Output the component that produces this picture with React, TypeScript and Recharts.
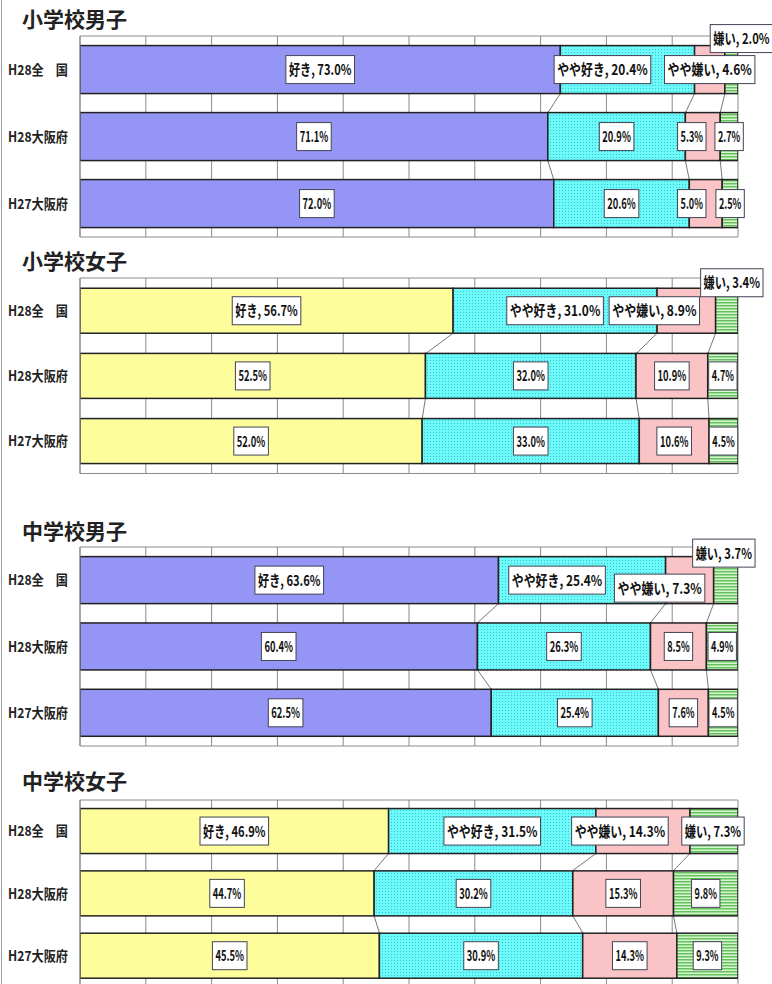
import React from 'react';
import { BarChart, Bar, XAxis, YAxis, CartesianGrid, LabelList } from 'recharts';

const categories = ['H28全　国', 'H28大阪府', 'H27大阪府'];
const seriesNames = ['好き', 'やや好き', 'やや嫌い', '嫌い'];
const panelTitles = ['小学校男子', '小学校女子', '中学校男子', '中学校女子'];
const xTicks = [0, 10, 20, 30, 40, 50, 60, 70, 80, 90, 100];

// values per series (好き, やや好き, やや嫌い, 嫌い), one entry per category row
const elemBoys = [
  [73.0, 71.1, 72.0],
  [20.4, 20.9, 20.6],
  [4.6, 5.3, 5.0],
  [2.0, 2.7, 2.5],
];
const elemGirls = [
  [56.7, 52.5, 52.0],
  [31.0, 32.0, 33.0],
  [8.9, 10.9, 10.6],
  [3.4, 4.7, 4.5],
];
const juniorBoys = [
  [63.6, 60.4, 62.5],
  [25.4, 26.3, 25.4],
  [7.3, 8.5, 7.6],
  [3.7, 4.9, 4.5],
];
const juniorGirls = [
  [46.9, 44.7, 45.5],
  [31.5, 30.2, 30.9],
  [14.3, 15.3, 14.3],
  [7.3, 9.8, 9.3],
];

const panelValues = [elemBoys, elemGirls, juniorBoys, juniorGirls];

// layout of each panel: plot top / height, bar gap, title top
const panelLayout = [
  { plotTop: 36, plotH: 201, gap: 0.143, titleTop: 8 },
  { plotTop: 277.5, plotH: 195.5, gap: 0.157, titleTop: 250 },
  { plotTop: 547, plotH: 199, gap: 0.145, titleTop: 520 },
  { plotTop: 799.5, plotH: 187, gap: 0.137, titleTop: 770 },
];

// manual label nudges, "panel-row-series": [dx, dy]
const labelShift: Record<string, [number, number]> = {
  '0-0-1': [-25, 0],
  '0-0-3': [10, -31],
  '0-1-2': [-11, 0],
  '0-2-2': [-14, 0],
  '1-0-2': [-32, 0],
  '1-0-3': [5, -28],
  '2-0-1': [-25, 0],
  '2-0-2': [-30, 8],
  '2-0-3': [-2, -27],
  '3-0-2': [-23, 0],
  '3-0-3': [-1, 0],
};

const FONT = '"Noto Sans CJK JP", "Noto Sans", sans-serif';
const MARGIN_TOP = 30;
const MARGIN_BOTTOM = 10;
const PLOT_LEFT = 80;
const CHART_W = 772;
const PLOT_RIGHT_MARGIN = 34;

// the source font is a narrow one: estimate its width, then squeeze our glyphs to it
function targetWidth(s: string) {
  let w = 0;
  for (const ch of s) {
    if (/[0-9]/.test(ch)) w += 6.2;
    else if (ch === '%') w += 7;
    else if (ch === '.' || ch === ',' || ch === ' ') w += 3;
    else w += 14;
  }
  return w;
}

const measureCache: Record<string, number> = {};
let measureCtx: CanvasRenderingContext2D | null = null;
function naturalWidth(s: string, size: number) {
  const key = `${size}|${s}`;
  if (measureCache[key]) return measureCache[key];
  if (!measureCtx) measureCtx = document.createElement('canvas').getContext('2d');
  let w = s.length * size * 0.7;
  if (measureCtx) {
    measureCtx.font = `bold ${size}px ${FONT}`;
    w = measureCtx.measureText(s).width;
  }
  measureCache[key] = w;
  return w;
}

function SqueezedText({ x, y, text, width, size, anchor, fill }: any) {
  const sx = Math.min(1, width / naturalWidth(text, size));
  return (
    <g transform={`translate(${x},${y}) scale(${sx},1)`}>
      <text x={0} y={0} textAnchor={anchor} fontFamily={FONT} fontWeight="bold" fontSize={size} fill={fill}>
        {text}
      </text>
    </g>
  );
}

function seriesFill(p: number, s: number) {
  const girls = p % 2 === 1;
  if (s === 0) return girls ? '#fdfd9c' : '#9595f5';
  if (s === 1) return `url(#dots-${p})`;
  if (s === 2) return '#fac3c6';
  return `url(#stripes-${p})`;
}

function makeShape(p: number, s: number) {
  const values = panelValues[p];
  const gap = panelLayout[p].gap;
  return (props: any) => {
    const { x, y, width, height, index } = props;
    const cum = (row: number) => {
      let t = 0;
      for (let k = 0; k <= s; k++) t += values[k][row];
      return t;
    };
    let seriesLine = null;
    if (s < 3 && index < categories.length - 1 && width > 0) {
      const k = width / values[s][index];
      const x0 = x + width - cum(index) * k;
      const nx = x0 + cum(index + 1) * k;
      const band = height / (1 - 2 * gap);
      seriesLine = (
        <line x1={x + width} y1={y + height} x2={nx} y2={y + band} stroke="#777" strokeWidth={1} />
      );
    }
    return (
      <g>
        <rect x={x} y={y} width={width} height={height} fill={props.fill} stroke="#222" strokeWidth={1.5} />
        {seriesLine}
      </g>
    );
  };
}

function makeLabel(p: number, s: number) {
  return (props: any) => {
    const vb = props.viewBox || props;
    const { x, y, width, height } = vb;
    const index = props.index;
    const value = Number(props.value);
    const text = index === 0 ? `${seriesNames[s]}, ${value.toFixed(1)}%` : `${value.toFixed(1)}%`;
    const tw = targetWidth(text);
    const bw = tw + 6;
    const bh = 28;
    const shift = labelShift[`${p}-${index}-${s}`] || [0, 0];
    const cx = x + width / 2 + shift[0];
    const cy = y + height / 2 + shift[1];
    return (
      <g>
        <rect x={cx - bw / 2} y={cy - bh / 2} width={bw} height={bh} fill="#fff" stroke="#445" strokeWidth={1} />
        <SqueezedText x={cx} y={cy + 5.5} text={text} width={tw} size={15} anchor="middle" fill="#111" />
      </g>
    );
  };
}

const CategoryTick = (props: any) => {
  const { x, y, payload } = props;
  return <SqueezedText x={x} y={y + 5} text={payload.value} width={60} size={14} anchor="end" fill="#222" />;
};

function Panel({ p }: { p: number }) {
  const layout = panelLayout[p];
  const values = panelValues[p];
  const rows = categories.map((cat, r) => ({
    cat,
    s0: values[0][r],
    s1: values[1][r],
    s2: values[2][r],
    s3: values[3][r],
  }));
  return (
    <div style={{ position: 'absolute', left: 0, top: layout.plotTop - MARGIN_TOP }}>
      <BarChart
        layout="vertical"
        width={CHART_W}
        height={layout.plotH + MARGIN_TOP + MARGIN_BOTTOM}
        data={rows}
        margin={{ top: MARGIN_TOP, right: PLOT_RIGHT_MARGIN, bottom: MARGIN_BOTTOM, left: 0 }}
        barCategoryGap={`${layout.gap * 100}%`}
        style={{ overflow: 'visible' }}
      >
        <defs>
          <pattern id={`dots-${p}`} width={3} height={3} patternUnits="userSpaceOnUse">
            <rect width={3} height={3} fill="#6cfafa" />
            <rect x={1} y={1} width={1} height={1} fill="#3fc2cf" />
          </pattern>
          <pattern id={`stripes-${p}`} width={4} height={3} patternUnits="userSpaceOnUse">
            <rect width={4} height={3} fill="#d6f6cf" />
            <rect width={4} height={1.5} fill="#66c05e" />
          </pattern>
        </defs>
        <CartesianGrid
          stroke="#8a8a8a"
          strokeWidth={1}
          horizontalCoordinatesGenerator={({ offset }: any) => [offset.top, offset.top + offset.height]}
        />
        <XAxis type="number" domain={[0, 100]} ticks={xTicks} allowDataOverflow hide />
        <YAxis
          type="category"
          dataKey="cat"
          width={PLOT_LEFT}
          tickSize={0}
          tickMargin={12}
          tickLine={false}
          axisLine={{ stroke: '#8a8a8a' }}
          tick={<CategoryTick />}
        />
        {seriesNames.map((name, s) => (
          <Bar
            key={name}
            dataKey={`s${s}`}
            name={name}
            stackId="a"
            fill={seriesFill(p, s)}
            shape={makeShape(p, s)}
            isAnimationActive={false}
          >
            <LabelList dataKey={`s${s}`} content={makeLabel(p, s)} />
          </Bar>
        ))}
      </BarChart>
    </div>
  );
}

export default function App() {
  return (
    <div
      style={{
        position: 'absolute',
        left: 0,
        top: 0,
        width: 772,
        height: 984,
        overflow: 'hidden',
        background: '#fff',
      }}
    >
      <div style={{ position: 'absolute', left: 1, top: 0, width: 1, height: 984, background: '#a0a0a0' }} />
      {panelTitles.map((t, p) => (
        <div
          key={t}
          style={{
            position: 'absolute',
            left: 22,
            top: panelLayout[p].titleTop,
            fontFamily: FONT,
            fontSize: 21,
            lineHeight: '21px',
            fontWeight: 'bold',
            color: '#222',
          }}
        >
          {t}
        </div>
      ))}
      {panelTitles.map((t, p) => (
        <Panel key={t} p={p} />
      ))}
    </div>
  );
}
